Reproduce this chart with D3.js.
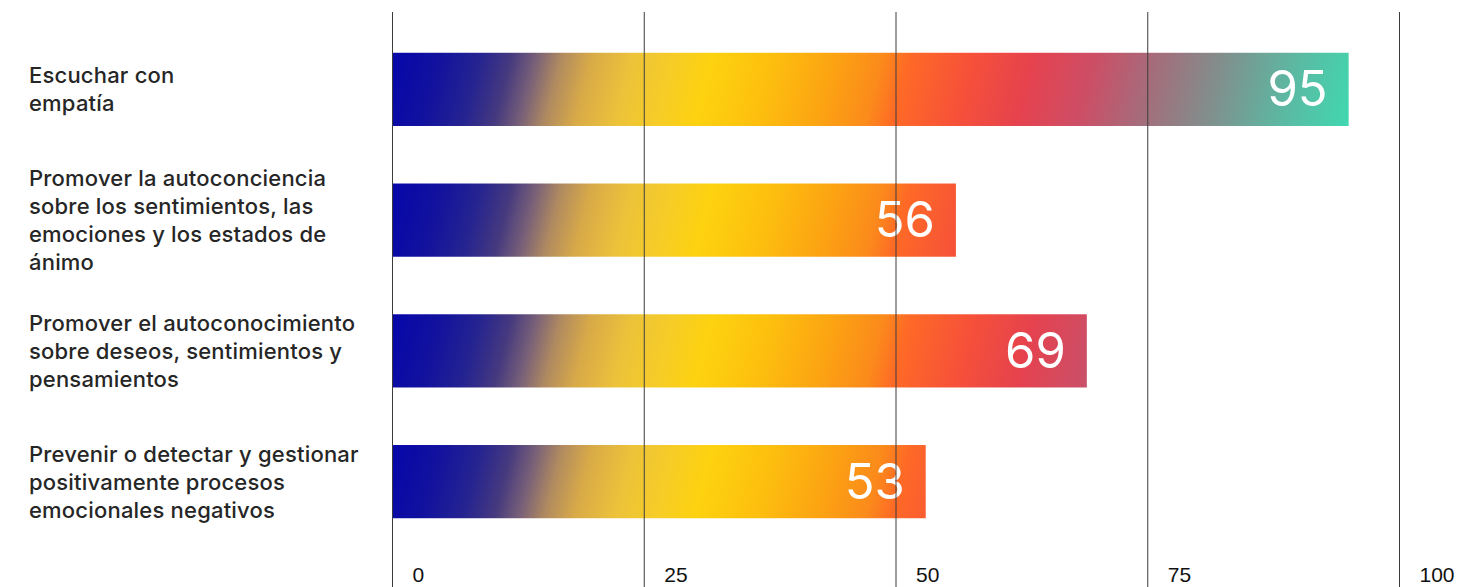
<!DOCTYPE html>
<html>
<head>
<meta charset="utf-8">
<script src="https://cdn.jsdelivr.net/npm/d3@7"></script>
<style>
  html, body { margin: 0; padding: 0; background: #fff; }
  svg { display: block; }
</style>
</head>
<body>
<svg id="chart" width="1481" height="587"></svg>
<script>
// Categories (each label already split into display lines)
const categories = [
  ["Escuchar con", "empatía"],
  ["Promover la autoconciencia", "sobre los sentimientos, las", "emociones y los estados de", "ánimo"],
  ["Promover el autoconocimiento", "sobre deseos, sentimientos y", "pensamientos"],
  ["Prevenir o detectar y gestionar", "positivamente procesos", "emocionales negativos"]
];
const values = [95, 56, 69, 53];
const tickValues = [0, 25, 50, 75, 100];

// Colour ramp laid along the value axis (offset = share of the 0–100 range)
const rampStops = [
  [0.00, "#0808a8"], [0.04, "#12129e"], [0.08, "#262490"], [0.11, "#45397f"],
  [0.135, "#786078"], [0.16, "#b08a60"], [0.19, "#d8aa48"], [0.23, "#ecc23a"],
  [0.27, "#f6cc28"], [0.31, "#fdd20f"], [0.37, "#fdbf0e"], [0.43, "#fca412"],
  [0.48, "#fb8a1b"], [0.505, "#fe6a26"], [0.57, "#f6503a"], [0.63, "#e5424e"],
  [0.69, "#cd4e66"], [0.75, "#a56c7b"], [0.82, "#80908d"], [0.89, "#5cb8a2"],
  [0.96, "#40d8b0"], [1.00, "#3ae0b4"]
];

const svg = d3.select("#chart");
const keys = categories.map((c, i) => "c" + i);

const x = d3.scaleLinear().domain([0, 100]).range([392, 1399]);
const y = d3.scaleBand().domain(keys).range([24, 547]).paddingInner(0.44).paddingOuter(0.22);

// One gradient per bar, anchored to the value axis with a slight diagonal
const defs = svg.append("defs");
const tilt = 0.25;
const span = (x(100) - x(0)) / (1 + tilt * tilt);
keys.forEach((k, i) => {
  const yc = y(k) + y.bandwidth() / 2;
  const g = defs.append("linearGradient")
    .attr("id", "grad-" + k)
    .attr("gradientUnits", "userSpaceOnUse")
    .attr("x1", x(0)).attr("y1", yc)
    .attr("x2", x(0) + span).attr("y2", yc + tilt * span);
  rampStops.forEach(([o, c]) => g.append("stop").attr("offset", o).attr("stop-color", c));
});

// Bars
svg.append("g").selectAll("rect")
  .data(values)
  .join("rect")
  .attr("x", x(0))
  .attr("y", (d, i) => y(keys[i]))
  .attr("width", d => x(d) - x(0))
  .attr("height", y.bandwidth())
  .attr("fill", (d, i) => "url(#grad-" + keys[i] + ")");

// Value labels inside the bar ends
svg.append("g").selectAll("text")
  .data(values)
  .join("text")
  .attr("x", d => x(d) - 21)
  .attr("y", (d, i) => y(keys[i]) + y.bandwidth() / 2 + 17)
  .attr("text-anchor", "end")
  .attr("fill", "#fff")
  .style("font-family", "Inter, 'Noto Sans', sans-serif")
  .style("font-size", "49px")
  .style("font-weight", 400)
  .text(d => d);

// Category labels on the left
const lineH = 28;
const labels = svg.append("g").selectAll("text")
  .data(categories)
  .join("text")
  .attr("fill", "#262626")
  .style("font-family", "Inter, 'Noto Sans', sans-serif")
  .style("font-size", "22px")
  .style("letter-spacing", "0.2px")
  .style("font-weight", 500);
labels.each(function (lines, i) {
  const yc = y(keys[i]) + y.bandwidth() / 2;
  const n = lines.length;
  d3.select(this).selectAll("tspan")
    .data(lines)
    .join("tspan")
    .attr("x", 29)
    .attr("y", (l, j) => yc + (j - (n - 1) / 2) * lineH + 8)
    .text(l => l);
});

// Vertical grid with tick labels, drawn over the bars
const axis = d3.axisBottom(x)
  .tickValues(tickValues)
  .tickSize(575)
  .tickFormat(d3.format("d"));
const ax = svg.append("g")
  .attr("transform", "translate(0,12)")
  .call(axis);
ax.select(".domain").remove();
ax.selectAll(".tick line").attr("stroke", "#3c3c3c").attr("stroke-width", 1);
ax.selectAll(".tick text")
  .attr("x", 20)
  .attr("y", 570)
  .attr("dy", 0)
  .attr("text-anchor", "start")
  .attr("fill", "#111")
  .style("font-family", "'Liberation Sans', Arial, sans-serif")
  .style("font-size", "21px");
</script>
</body>
</html>
